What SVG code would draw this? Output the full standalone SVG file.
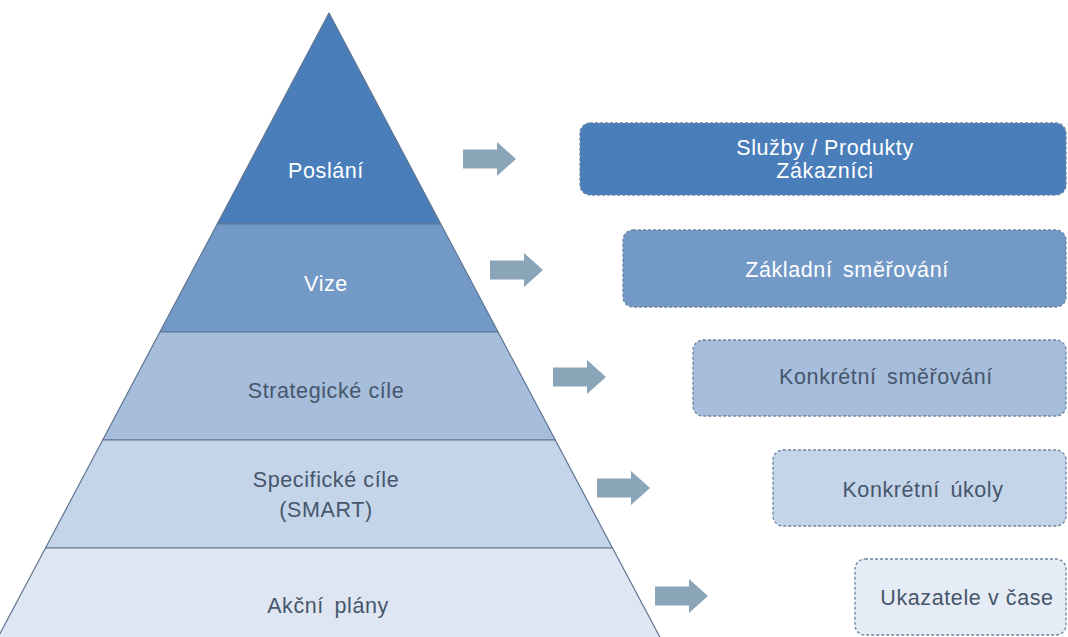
<svg xmlns="http://www.w3.org/2000/svg" width="1068" height="637" viewBox="0 0 1068 637">
<style>
.lay{stroke:#5e7590;stroke-width:1.2;stroke-linejoin:round}
.box{stroke:#6a84a3;stroke-width:1.3;stroke-dasharray:3 2}
.t{font-family:"Liberation Sans",Arial,sans-serif;font-size:21.5px;letter-spacing:0.6px;text-anchor:middle}
.ws{word-spacing:4px}
.w{fill:#ffffff}
.d{fill:#46566b}
.arr{fill:#8ba5b8}
</style>
<defs>
<path id="ar" d="M0,-9.5 H34 V-17 L53,0 L34,17 V9.5 H0 Z"/>
</defs>
<rect width="1068" height="637" fill="#ffffff"/>
<g id="pyramid">
<g id="l1"><polygon class="lay" points="329,13 440.8,224 217.2,224" fill="#4a7ebb"/><text class="t w" x="326" y="178">Poslání</text></g>
<g id="l2"><polygon class="lay" points="217.2,224 440.8,224 498.1,332 159.9,332" fill="#7399c7"/><text class="t w" x="326" y="291">Vize</text></g>
<g id="l3"><polygon class="lay" points="159.9,332 498.1,332 555.3,440 102.7,440" fill="#a6bddb"/><text class="t d" x="326" y="398">Strategické cíle</text></g>
<g id="l4"><polygon class="lay" points="102.7,440 555.3,440 612.5,548 45.5,548" fill="#c4d4e9"/><text class="t d" x="326" y="487">Specifické cíle</text><text class="t d" x="326" y="517">(SMART)</text></g>
<g id="l5"><polygon class="lay" points="45.5,548 612.5,548 662,641 -4,641" fill="#dde6f2"/><text class="t d ws" x="328" y="613">Akční plány</text></g>
</g>
<g id="connectors">
<use href="#ar" class="arr" x="463" y="159"/>
<use href="#ar" class="arr" x="490" y="270"/>
<use href="#ar" class="arr" x="553" y="377"/>
<use href="#ar" class="arr" x="597" y="488"/>
<use href="#ar" class="arr" x="655" y="596"/>
</g>
<g id="b1"><rect class="box" x="580" y="123" width="486" height="72" rx="10" fill="#4a7ebb"/><text class="t w" x="825" y="155">Služby / Produkty</text><text class="t w" x="825" y="178">Zákazníci</text></g>
<g id="b2"><rect class="box" x="623" y="230" width="443" height="77" rx="10" fill="#7399c7"/><text class="t w ws" x="847" y="277">Základní směřování</text></g>
<g id="b3"><rect class="box" x="693" y="340" width="373" height="76" rx="10" fill="#a6bddb"/><text class="t d ws" x="886" y="384">Konkrétní směřování</text></g>
<g id="b4"><rect class="box" x="773" y="450" width="293" height="76" rx="10" fill="#c4d4e9"/><text class="t d ws" x="923" y="497">Konkrétní úkoly</text></g>
<g id="b5"><rect class="box" x="855" y="559" width="211" height="76" rx="10" fill="#e5ecf5"/><text class="t d" x="967" y="605">Ukazatele  v čase</text></g>
</svg>
